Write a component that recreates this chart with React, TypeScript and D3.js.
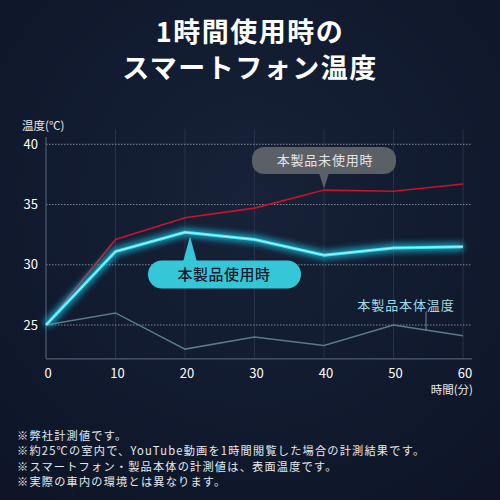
import * as d3 from 'd3';
import { useEffect } from 'react';

// minutes on the x axis
const minutes = [0, 10, 20, 30, 40, 50, 60];
// phone temperature without the product
const unusedTemp = [25.0, 32.1, 33.9, 34.7, 36.2, 36.1, 36.7];
// phone temperature with the product
const usedTemp = [25.0, 31.1, 32.7, 32.1, 30.8, 31.4, 31.5];
// surface temperature of the product itself
const bodyTemp = [25.0, 26.0, 23.0, 24.0, 23.3, 25.0, 24.1];
const yTicks = [25, 30, 35, 40];
const xTicks = [0, 10, 20, 30, 40, 50, 60];

const titleLines = ['1時間使用時の', 'スマートフォン温度'];
const notes = [
  '※弊社計測値です。',
  '※約25℃の室内で、YouTube動画を1時間閲覧した場合の計測結果です。',
  '※スマートフォン・製品本体の計測値は、表面温度です。',
  '※実際の車内の環境とは異なります。',
];

const FONT = '"Noto Sans CJK JP", "Noto Sans", sans-serif';

export default function App() {
  useEffect(() => {
    document.body.style.margin = '0';
  }, []);

  const x = d3.scaleLinear().domain([0, 60]).range([46, 463]);
  const y = d3.scaleLinear().domain([25, 40]).range([325, 144.3]);
  const yBottom = y(22.18);
  const yTop = y(41.25);

  const line = d3
    .line<number>()
    .x((_, i) => x(minutes[i]))
    .y((d) => y(d));

  // callout anchors
  const grayX = x(40);
  const grayTip = y(unusedTemp[4]) - 1.5;
  const cyanTipX = x(20) + 5;
  const cyanTipY = y(usedTemp[2]) + 4;
  const leadX = 426;
  const leadVal = bodyTemp[5] + ((leadX - x(50)) / (x(60) - x(50))) * (bodyTemp[6] - bodyTemp[5]);

  return (
    <svg width={500} height={500} style={{ display: 'block' }} fontFamily={FONT}>
      <defs>
        <radialGradient id="bg" cx="50%" cy="40%" r="75%">
          <stop offset="0%" stopColor="#172238" />
          <stop offset="100%" stopColor="#0d1527" />
        </radialGradient>
        <filter id="glow" x="-10%" y="-50%" width="120%" height="200%">
          <feGaussianBlur stdDeviation="3" />
        </filter>
      </defs>
      <rect width={500} height={500} fill="url(#bg)" />

      {/* title */}
      {titleLines.map((t, i) => (
        <text
          key={t}
          x={250}
          y={42 + i * 36}
          textAnchor="middle"
          fill="#fff"
          fontSize={27}
          fontWeight={700}
          letterSpacing={1.5}
        >
          {t}
        </text>
      ))}

      {/* vertical grid */}
      {xTicks.slice(1).map((t) => (
        <line key={t} x1={x(t)} x2={x(t)} y1={yTop} y2={yBottom} stroke="#27334a" strokeWidth={1} />
      ))}
      {/* horizontal dotted grid */}
      {yTicks.map((t) => (
        <line
          key={t}
          x1={x(0)}
          x2={472}
          y1={y(t)}
          y2={y(t)}
          stroke="#9aa3b0"
          strokeWidth={0.8}
          strokeDasharray="1.5,1.5"
        />
      ))}
      {/* axes */}
      <line x1={x(0)} x2={x(0)} y1={137} y2={yBottom} stroke="#4e5d72" strokeWidth={1.2} />
      <line x1={x(0)} x2={472} y1={yBottom} y2={yBottom} stroke="#4e5d72" strokeWidth={1.2} />

      {yTicks.map((t) => (
        <text key={t} x={38} y={y(t)} dy="0.36em" textAnchor="end" fill="#fff" fontSize={13}>
          {t}
        </text>
      ))}
      {xTicks.map((t) => (
        <text key={t} x={x(t) + 2} y={373} dy="0.36em" textAnchor="middle" fill="#fff" fontSize={13}>
          {t}
        </text>
      ))}
      <text x={22} y={126} dy="0.36em" fill="#e8ebf0" fontSize={11.5}>
        温度(℃)
      </text>
      <text x={473} y={390} dy="0.36em" textAnchor="end" fill="#e8ebf0" fontSize={11.5}>
        時間(分)
      </text>

      {/* series */}
      <path d={line(bodyTemp) ?? ''} fill="none" stroke="#5b7a8b" strokeWidth={1.5} />
      <path d={line(unusedTemp) ?? ''} fill="none" stroke="#c8122e" strokeWidth={1.6} />
      <path d={line(usedTemp) ?? ''} fill="none" stroke="#1fc4e4" strokeWidth={8} opacity={0.75} filter="url(#glow)" />
      <path d={line(usedTemp) ?? ''} fill="none" stroke="#46e4f6" strokeWidth={3} />
      <path d={line(usedTemp) ?? ''} fill="none" stroke="#a8f6ff" strokeWidth={1} />

      {/* gray callout */}
      <rect x={grayX - 72} y={147} width={144} height={27} rx={12} fill="#5b5f66" />
      <path d={`M${grayX - 5},173 L${grayX + 5},173 L${grayX},${grayTip} Z`} fill="#5b5f66" />
      <text x={grayX + 1} y={160.5} dy="0.36em" textAnchor="middle" fill="#e4e4e4" fontSize={13} letterSpacing={0.8}>
        本製品未使用時
      </text>

      {/* cyan callout */}
      <path d={`M${cyanTipX - 7},262 L${cyanTipX + 7},262 L${cyanTipX},${cyanTipY} Z`} fill="#35c6d8" />
      <rect x={148} y={260.5} width={153} height={28} rx={14} fill="#35c6d8" />
      <text x={224} y={274.5} dy="0.36em" textAnchor="middle" fill="#0e1a2d" fontSize={15} letterSpacing={0.5} fontWeight={500}>
        本製品使用時
      </text>

      {/* body temperature label */}
      <text x={406} y={305} dy="0.36em" textAnchor="middle" fill="#9fdbe7" fontSize={13} letterSpacing={0.9}>
        本製品本体温度
      </text>
      <line x1={leadX} x2={leadX} y1={311.5} y2={y(leadVal)} stroke="#6f8c9b" strokeWidth={1} />

      {/* footnotes */}
      {notes.map((n, i) => (
        <text key={i} x={17} y={435.5 + i * 15.5} dy="0.36em" fill="#e6e9ee" fontSize={11.2} letterSpacing={1.2}>
          {n}
        </text>
      ))}
    </svg>
  );
}
